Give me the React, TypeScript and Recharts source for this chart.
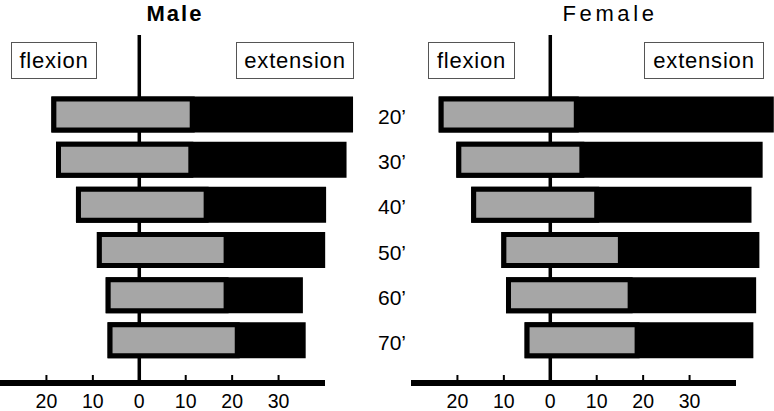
import React from "react";
import { BarChart, Bar, XAxis, YAxis, ReferenceLine } from "recharts";

const ages = ["20’", "30’", "40’", "50’", "60’", "70’"];
const maleFlexion = [-18.4, -17.4, -13.1, -8.6, -6.7, -6.3];
const maleGrayEnd = [11.4, 11.1, 14.4, 18.7, 18.7, 21.1];
const maleExtension = [45.5, 44.1, 39.7, 39.5, 34.7, 35.3];
const femaleFlexion = [-23.5, -19.7, -16.5, -10.0, -9.0, -5.0];
const femaleGrayEnd = [5.6, 6.8, 10.0, 15.1, 17.2, 18.7];
const femaleExtension = [47.6, 45.2, 42.8, 44.5, 43.8, 43.2];
const xTicks = [-20, -10, 0, 10, 20, 30];

const FONT = "'Liberation Sans', Arial, Helvetica, sans-serif";

function build(flex: number[], grayEnd: number[], ext: number[]) {
  return ages.map((age, i) => ({
    age,
    flexion: flex[i],
    grayEnd: grayEnd[i],
    extension: ext[i],
  }));
}

const maleData = build(maleFlexion, maleGrayEnd, maleExtension);
const femaleData = build(femaleFlexion, femaleGrayEnd, femaleExtension);

type PanelProps = {
  data: any[];
  left: number;
  width: number;
  rightMargin: number;
  showCategories: boolean;
};

function Panel({ data, left, width, rightMargin, showCategories }: PanelProps) {
  return (
    <div style={{ position: "absolute", left, top: 0 }}>
      <BarChart
        width={width}
        height={411}
        data={data}
        layout="vertical"
        margin={{ top: 35, right: rightMargin, bottom: 0, left: 0 }}
        barGap={-31}
      >
        <XAxis
          type="number"
          domain={[-30, 40]}
          allowDataOverflow
          ticks={xTicks}
          interval={0}
          tickFormatter={(v: number) => String(Math.abs(v))}
          axisLine={{ stroke: "#000", strokeWidth: 6 }}
          tickLine={{ stroke: "#000", strokeWidth: 2 }}
          tickSize={-8}
          tickMargin={19}
          height={28}
          tick={{ fill: "#000", fontSize: 19.5, fontFamily: FONT }}
        />
        <YAxis
          type="category"
          dataKey="age"
          orientation="right"
          hide={!showCategories}
          width={showCategories ? 80 : 0}
          axisLine={false}
          tickLine={false}
          tickSize={0}
          tickMargin={53}
          padding={{ top: 57, bottom: 20 }}
          tick={{ fill: "#000", fontSize: 21, fontFamily: FONT, dy: 2 }}
        />
        <ReferenceLine x={0} stroke="#000" strokeWidth={3.5} zIndex={-50} />
        <Bar
          dataKey={(d: any) => [d.flexion, d.extension]}
          fill="#000"
          stroke="#000"
          strokeWidth={5}
          barSize={31}
          isAnimationActive={false}
        />
        <Bar
          dataKey={(d: any) => [d.flexion, d.grayEnd]}
          fill="#a6a6a6"
          stroke="#000"
          strokeWidth={5}
          barSize={31}
          isAnimationActive={false}
        />
      </BarChart>
    </div>
  );
}

const boxStyle: React.CSSProperties = {
  position: "absolute",
  top: 42,
  height: 35,
  border: "1px solid #555",
  background: "#fff",
  display: "flex",
  alignItems: "center",
  justifyContent: "center",
  fontFamily: FONT,
  fontSize: 22,
  letterSpacing: 0.8,
  color: "#000",
  boxSizing: "content-box",
};

const titleStyle: React.CSSProperties = {
  position: "absolute",
  top: 1,
  fontFamily: FONT,
  fontSize: 22,
  color: "#000",
  whiteSpace: "nowrap",
  transform: "translateX(-50%)",
};

export default function App() {
  return (
    <div
      style={{
        position: "absolute",
        left: 0,
        top: 0,
        width: 774,
        height: 411,
        background: "#fff",
        overflow: "hidden",
      }}
    >
      <style>{`.recharts-bar-rectangles, .recharts-bar-rectangles * { clip-path: none !important; } .recharts-surface { overflow: visible; }`}</style>
      <Panel data={maleData} left={0} width={405} rightMargin={0} showCategories={true} />
      <Panel data={femaleData} left={411} width={363} rightMargin={38} showCategories={false} />

      <div style={{ ...titleStyle, left: 175, fontWeight: "bold", letterSpacing: 2 }}>Male</div>
      <div style={{ ...titleStyle, left: 610, letterSpacing: 3.6 }}>Female</div>

      <div style={{ ...boxStyle, left: 11, width: 84 }}>flexion</div>
      <div style={{ ...boxStyle, left: 236, width: 116 }}>extension</div>
      <div style={{ ...boxStyle, left: 428, width: 85 }}>flexion</div>
      <div style={{ ...boxStyle, left: 644, width: 118 }}>extension</div>
    </div>
  );
}
